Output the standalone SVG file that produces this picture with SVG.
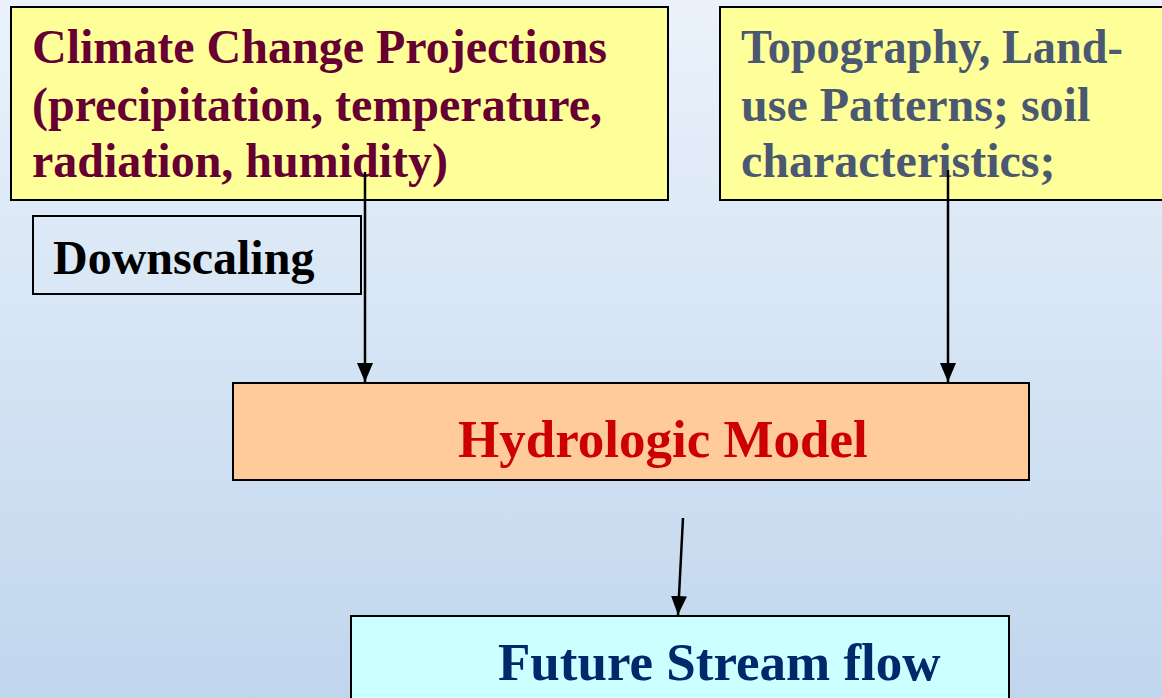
<svg xmlns="http://www.w3.org/2000/svg" width="1162" height="698" viewBox="0 0 1162 698">
<defs>
<linearGradient id="bg" x1="0" y1="0" x2="0" y2="1">
<stop offset="0" stop-color="#EBF2FB"/>
<stop offset="1" stop-color="#C0D6ED"/>
</linearGradient>
<marker id="ah" viewBox="0 0 19 16" refX="19" refY="8" markerWidth="19" markerHeight="16" markerUnits="userSpaceOnUse" orient="auto">
<path d="M0,0 L19,8 L0,16 Z" fill="#000"/>
</marker>
</defs>
<style>
.box{stroke:#000;stroke-width:2}
.t{font-family:"Liberation Serif","Times New Roman",serif;font-weight:bold;font-size:48px}
.big{font-size:53px}
.conn line{stroke:#000;stroke-width:2.5}
</style>
<rect width="1162" height="698" fill="url(#bg)"/>
<g id="climate">
<rect class="box" x="11" y="7" width="657" height="193" fill="#FFFF99"/>
<text class="t" fill="#660033"><tspan x="32" y="63">Climate Change Projections</tspan><tspan x="32" y="120.5">(precipitation, temperature,</tspan><tspan x="32" y="177">radiation, humidity)</tspan></text>
</g>
<g id="topography">
<rect class="box" x="720" y="7" width="460" height="193" fill="#FFFF99"/>
<text class="t" fill="#4B5871"><tspan x="741" y="63" textLength="382" lengthAdjust="spacingAndGlyphs">Topography, Land-</tspan><tspan x="741" y="120.5">use Patterns; soil</tspan><tspan x="741" y="177">characteristics;</tspan></text>
</g>
<g id="downscaling">
<rect class="box" x="33" y="216" width="328" height="78" fill="none"/>
<text class="t" fill="#000" x="53" y="274">Downscaling</text>
</g>
<g id="hydrologic">
<rect class="box" x="233" y="383" width="796" height="97" fill="#FFCC99"/>
<text class="t big" fill="#CC0000" x="458" y="457">Hydrologic Model</text>
</g>
<g id="streamflow">
<rect class="box" x="351" y="616" width="658" height="100" fill="#CCFFFF"/>
<text class="t big" fill="#00286A" x="498" y="680">Future Stream flow</text>
</g>
<g id="connectors" class="conn">
<line x1="365" y1="172" x2="365" y2="382" marker-end="url(#ah)"/>
<line x1="948" y1="170" x2="948" y2="382" marker-end="url(#ah)"/>
<line x1="683" y1="518" x2="678" y2="615" marker-end="url(#ah)"/>
</g>
</svg>
